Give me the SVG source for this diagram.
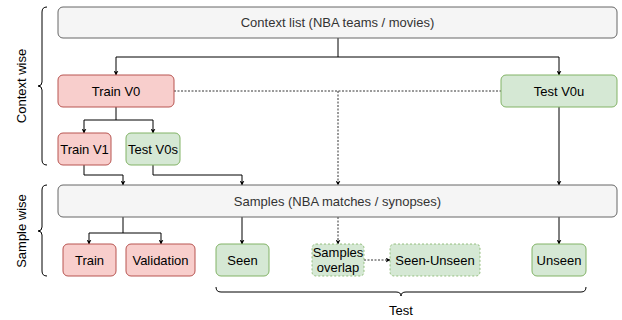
<svg xmlns="http://www.w3.org/2000/svg" width="622" height="320" viewBox="0 0 622 320">
<defs>
<marker id="arr" viewBox="0 0 10 10" refX="9" refY="5" markerWidth="5" markerHeight="5" orient="auto" markerUnits="userSpaceOnUse">
<path d="M0,0 L10,5 L0,10 L3,5 z" fill="#000"/>
</marker>
<style>
text{font-family:"Liberation Sans",Arial,sans-serif;font-size:13px;text-anchor:middle;fill:#000}
.gray{fill:#f5f5f5;stroke:#666666;stroke-width:1}
.red{fill:#f8cecc;stroke:#b85450;stroke-width:1}
.green{fill:#d5e8d4;stroke:#82b366;stroke-width:1}
.dgreen{fill:#d5e8d4;stroke:#82b366;stroke-width:0.8;stroke-dasharray:2 2}
.gt{fill:#333333}
.c{fill:none;stroke:#000;stroke-width:1}
.d{fill:none;stroke:#000;stroke-width:0.8;stroke-dasharray:2 1.5}
.br{fill:none;stroke:#000;stroke-width:1}
</style>
</defs>
<g id="connectors">
<path class="c" d="M338,38 V57"/>
<path class="c" d="M116,57 H559"/>
<path class="c" d="M116,57 V75" marker-end="url(#arr)"/>
<path class="c" d="M559,57 V75" marker-end="url(#arr)"/>
<path class="d" d="M174,91 H501"/>
<path class="d" d="M338,91 V185" marker-end="url(#arr)"/>
<path class="c" d="M116,107 V120 M84,120 H153"/>
<path class="c" d="M84,120 V133" marker-end="url(#arr)"/>
<path class="c" d="M153,120 V133" marker-end="url(#arr)"/>
<path class="c" d="M84,165 V175 H123 V185" marker-end="url(#arr)"/>
<path class="c" d="M153,165 V175 H242 V185" marker-end="url(#arr)"/>
<path class="c" d="M559,107 V185" marker-end="url(#arr)"/>
<path class="c" d="M123,217 V233 M89,233 H161"/>
<path class="c" d="M89,233 V244" marker-end="url(#arr)"/>
<path class="c" d="M161,233 V244" marker-end="url(#arr)"/>
<path class="c" d="M242,217 V244" marker-end="url(#arr)"/>
<path class="d" d="M338,217 V244" marker-end="url(#arr)"/>
<path class="c" d="M559,217 V244" marker-end="url(#arr)"/>
<path class="d" d="M364,260 H390" marker-end="url(#arr)"/>
</g>
<g id="context-list"><rect class="gray" x="58" y="7" width="559" height="31" rx="5"/><text class="gt" x="337.5" y="27">Context list (NBA teams / movies)</text></g>
<g id="train-v0"><rect class="red" x="58" y="75" width="116" height="32" rx="5"/><text x="116" y="95.5">Train V0</text></g>
<g id="test-v0u"><rect class="green" x="501" y="75" width="116" height="32" rx="5"/><text x="559" y="95.5">Test V0u</text></g>
<g id="train-v1"><rect class="red" x="58" y="133" width="53" height="32" rx="5"/><text x="84.5" y="153.5">Train V1</text></g>
<g id="test-v0s"><rect class="green" x="126" y="133" width="54" height="32" rx="5"/><text x="153" y="153.5">Test V0s</text></g>
<g id="samples"><rect class="gray" x="58" y="185" width="559" height="32" rx="5"/><text class="gt" x="337.5" y="205.5">Samples (NBA matches / synopses)</text></g>
<g id="train"><rect class="red" x="63" y="244" width="53" height="32" rx="5"/><text x="89.5" y="264.5">Train</text></g>
<g id="validation"><rect class="red" x="126" y="244" width="69" height="32" rx="5"/><text x="160.5" y="264.5">Validation</text></g>
<g id="seen"><rect class="green" x="216" y="244" width="53" height="32" rx="5"/><text x="242.5" y="264.5">Seen</text></g>
<g id="samples-overlap"><rect class="dgreen" x="312" y="244" width="52" height="32" rx="4"/><text x="338" y="257">Samples</text><text x="338" y="272">overlap</text></g>
<g id="seen-unseen"><rect class="dgreen" x="390" y="244" width="90" height="32" rx="4"/><text x="435" y="264.5">Seen-Unseen</text></g>
<g id="unseen"><rect class="green" x="532" y="244" width="54" height="32" rx="5"/><text x="559" y="264.5">Unseen</text></g>
<g id="context-wise"><path class="br" d="M47,7 Q42,7 42,12 L42,82 Q42,86 38,86 Q42,86 42,90 L42,160 Q42,165 47,165"/><text transform="translate(26,86) rotate(-90)">Context wise</text></g>
<g id="sample-wise"><path class="br" d="M47,185 Q42,185 42,190 L42,227 Q42,231 38,231 Q42,231 42,235 L42,271 Q42,276 47,276"/><text transform="translate(26,231) rotate(-90)">Sample wise</text></g>
<g id="test"><path class="br" d="M216,287 Q216,292 221,292 L396,292 Q401,292 401,296 Q401,292 406,292 L581,292 Q586,292 586,287"/><text x="401" y="315">Test</text></g>
</svg>
